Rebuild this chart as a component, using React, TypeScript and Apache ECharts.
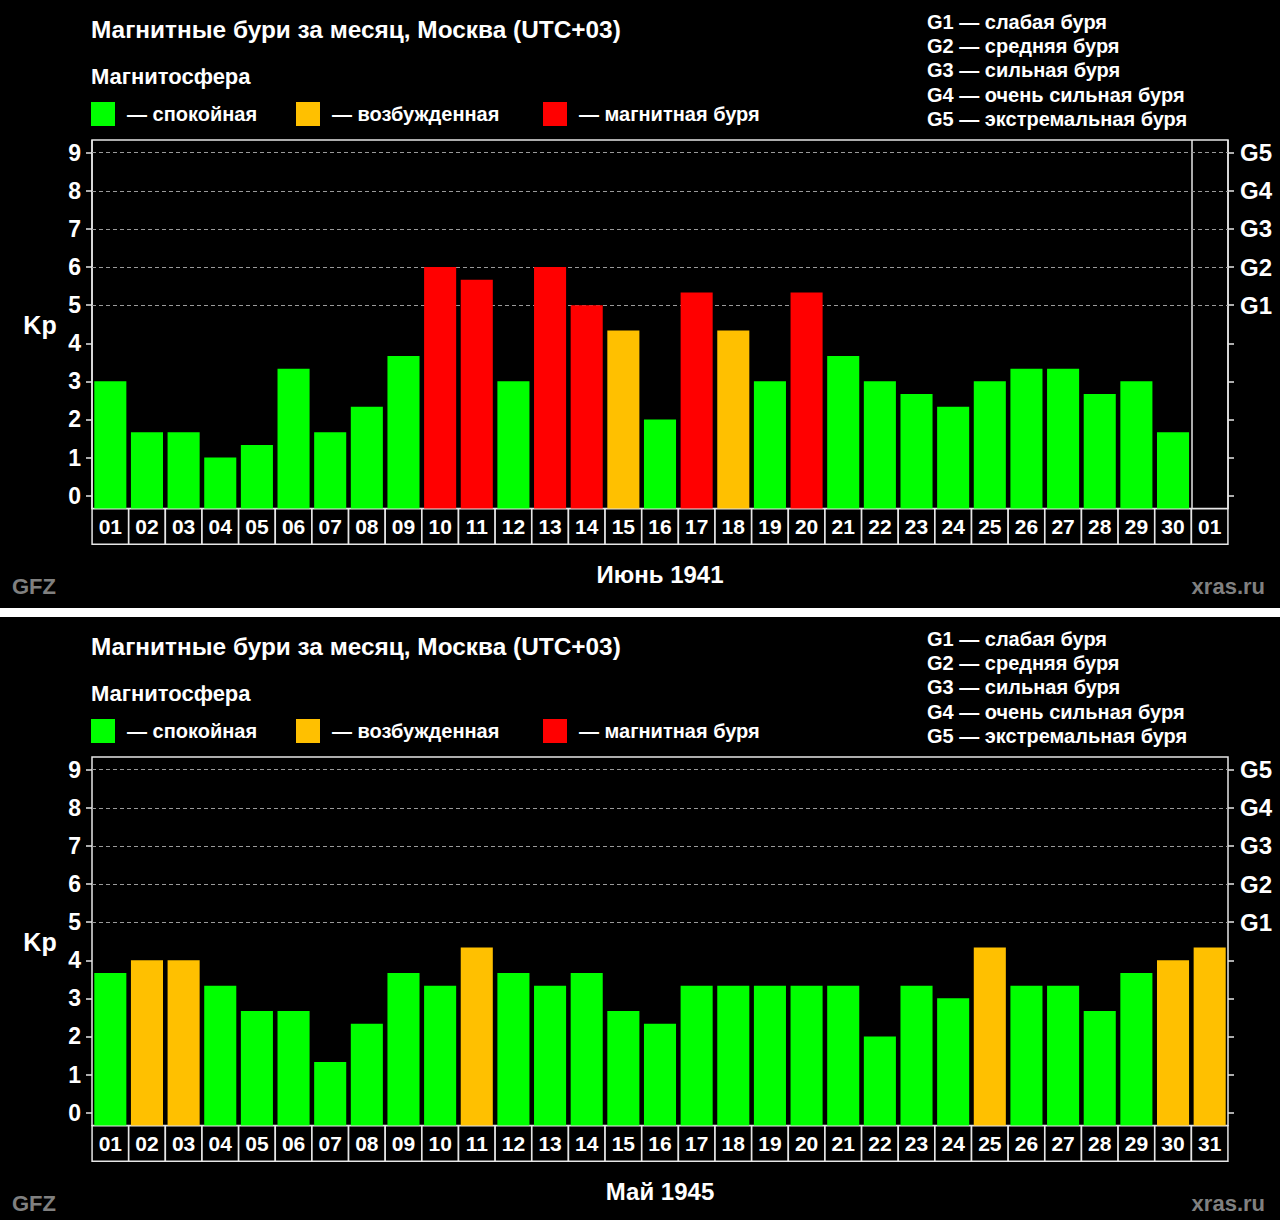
import React, { useEffect, useRef } from "react";
import * as echarts from "echarts";

// ---------- data ----------
const junDays = ["01","02","03","04","05","06","07","08","09","10","11","12","13","14","15","16","17","18","19","20","21","22","23","24","25","26","27","28","29","30","01"];
const junKp = [3, 1.667, 1.667, 1, 1.333, 3.333, 1.667, 2.333, 3.667, 6, 5.667, 3, 6, 5, 4.333, 2, 5.333, 4.333, 3, 5.333, 3.667, 3, 2.667, 2.333, 3, 3.333, 3.333, 2.667, 3, 1.667, null];
const mayDays = ["01","02","03","04","05","06","07","08","09","10","11","12","13","14","15","16","17","18","19","20","21","22","23","24","25","26","27","28","29","30","31"];
const mayKp = [3.667, 4, 4, 3.333, 2.667, 2.667, 1.333, 2.333, 3.667, 3.333, 4.333, 3.667, 3.333, 3.667, 2.667, 2.333, 3.333, 3.333, 3.333, 3.333, 3.333, 2, 3.333, 3, 4.333, 3.333, 3.333, 2.667, 3.667, 4, 4.333];
const monthTitles = ["Июнь 1941", "Май 1945"];
const gLabels = ["G1", "G2", "G3", "G4", "G5"]; // at Kp 5..9
const gridLevels = [5, 6, 7, 8, 9];
const stormScale = ["G1 — слабая буря", "G2 — средняя буря", "G3 — сильная буря", "G4 — очень сильная буря", "G5 — экстремальная буря"];
const legendLabels = ["— спокойная", "— возбужденная", "— магнитная буря"];
const chartTitle = "Магнитные бури за месяц, Москва (UTC+03)";
const subTitle = "Магнитосфера";

// ---------- style ----------
const GREEN = "#00ff00";
const ORANGE = "#ffc000";
const RED = "#ff0000";
const legendColors = [GREEN, ORANGE, RED];
const FONT = "'Liberation Sans', Arial, sans-serif";
const kpColor = (v: number) => (v >= 5 ? RED : v >= 4 ? ORANGE : GREEN);

const PANEL_DY = 617;
const PLOT_LEFT = 92;
const PLOT_WIDTH = 1136;
const FRAME_TOP = 140;
const FRAME_H = 368.4;
const UNIT = FRAME_H / (29 / 3);

function txt(text: string, x: number, y: number, size: number, opts: any = {}) {
  return {
    type: "text",
    x,
    y,
    silent: true,
    style: {
      text,
      fill: opts.fill || "#ffffff",
      fontSize: size,
      fontWeight: "bold",
      fontFamily: FONT,
      align: opts.align || "left",
      verticalAlign: "middle",
    },
  };
}

function buildPanel(p: number, days: string[], kp: (number | null)[], sep: boolean, month: string) {
  const dy = p * PANEL_DY;
  const g0 = p * 2;
  const g1 = p * 2 + 1;
  const grids = [
    { left: PLOT_LEFT, top: FRAME_TOP + dy, width: PLOT_WIDTH, height: FRAME_H, show: true, borderColor: "#e6e6e6", borderWidth: 1.5, backgroundColor: "transparent" },
    { left: PLOT_LEFT, top: FRAME_TOP + dy + UNIT / 3, width: PLOT_WIDTH, height: UNIT * 9, show: false },
  ];
  const xAxes = [
    {
      gridIndex: g0,
      type: "category",
      data: days,
      boundaryGap: true,
      axisLine: { show: false },
      axisTick: { show: false },
      axisLabel: {
        interval: 0,
        margin: 1,
        color: "#ffffff",
        fontSize: 21,
        fontWeight: "bold",
        fontFamily: FONT,
        width: 35,
        height: 34,
        lineHeight: 34,
        align: "center",
        backgroundColor: "#000000",
        borderColor: "#e6e6e6",
        borderWidth: 1.5,
      },
      splitLine: sep
        ? { show: true, interval: (i: number) => i === 0 || i === days.length - 1, lineStyle: { color: "#e6e6e6", width: 1.5 } }
        : { show: false },
    },
    { gridIndex: g1, type: "category", data: days, show: false },
  ];
  const tickStyle = { show: true, inside: false, length: 6, lineStyle: { color: "#e6e6e6", width: 1.5 } };
  const labelStyle = { color: "#ffffff", fontSize: 23, fontWeight: "bold", fontFamily: FONT };
  const yAxes = [
    { gridIndex: g0, type: "value", min: -1 / 3, max: 28 / 3, startValue: -1 / 3, show: false },
    {
      gridIndex: g1, type: "value", position: "left", min: 0, max: 9, interval: 1,
      axisLine: { show: false }, axisTick: tickStyle, splitLine: { show: false },
      axisLabel: { ...labelStyle, margin: 11 },
    },
    {
      gridIndex: g1, type: "value", position: "right", min: 0, max: 9, interval: 1,
      axisLine: { show: false }, axisTick: tickStyle, splitLine: { show: false },
      axisLabel: { ...labelStyle, fontSize: 24, margin: 12, formatter: (v: number) => (v >= 5 ? gLabels[v - 5] : "") },
    },
  ];
  const series = [
    {
      type: "bar",
      xAxisIndex: g0,
      yAxisIndex: p * 3,
      data: kp.map((v) => (v == null ? null : { value: v, itemStyle: { color: kpColor(v) } })),
      barCategoryGap: "12.5%",
      z: 2,
      markLine: {
        silent: true,
        z: 1,
        symbol: ["none", "none"],
        label: { show: false },
        lineStyle: { type: [4, 3], color: "#9a9a9a", width: 1 },
        data: gridLevels.map((v) => ({ yAxis: v })),
      },
    },
  ];
  const legendX = [91, 296, 543];
  const legendTextX = [127, 332, 579];
  const stormY = [22, 46, 70, 95, 119];
  const graphics: any[] = [
    txt(chartTitle, 91, 29 + dy, 24.4),
    txt(subTitle, 91, 76 + dy, 22),
    ...legendLabels.map((l, i) => txt(l, legendTextX[i], 114 + dy, 20)),
    ...legendColors.map((c, i) => ({ type: "rect", shape: { x: legendX[i], y: 102 + dy, width: 24, height: 24 }, style: { fill: c }, silent: true })),
    ...stormScale.map((s, i) => txt(s, 927, stormY[i] + dy, 20)),
    txt("Kp", 40, 325 + dy, 25, { align: "center" }),
    txt(month, 660, 574 + dy, 24, { align: "center" }),
    txt("GFZ", 12, 586 + dy, 22, { fill: "#808080" }),
    txt("xras.ru", 1265, 586 + dy, 22, { fill: "#808080", align: "right" }),
  ];
  return { grids, xAxes, yAxes, series, graphics };
}

export default function App() {
  const ref = useRef<HTMLDivElement>(null);
  useEffect(() => {
    if (!ref.current) return;
    const chart = echarts.init(ref.current, undefined, { renderer: "svg" });
    const a = buildPanel(0, junDays, junKp, true, monthTitles[0]);
    const b = buildPanel(1, mayDays, mayKp, false, monthTitles[1]);
    chart.setOption({
      animation: false,
      backgroundColor: "#000000",
      textStyle: { fontFamily: FONT },
      grid: [...a.grids, ...b.grids],
      xAxis: [...a.xAxes, ...b.xAxes],
      yAxis: [...a.yAxes, ...b.yAxes],
      series: [...a.series, ...b.series],
      graphic: [
        ...a.graphics,
        ...b.graphics,
        { type: "rect", shape: { x: 0, y: 608, width: 1280, height: 9 }, style: { fill: "#ffffff" }, silent: true },
      ],
    });
    return () => chart.dispose();
  }, []);
  return (
    <div
      ref={ref}
      style={{ position: "absolute", left: 0, top: 0, width: 1280, height: 1220, background: "#000" }}
    />
  );
}
